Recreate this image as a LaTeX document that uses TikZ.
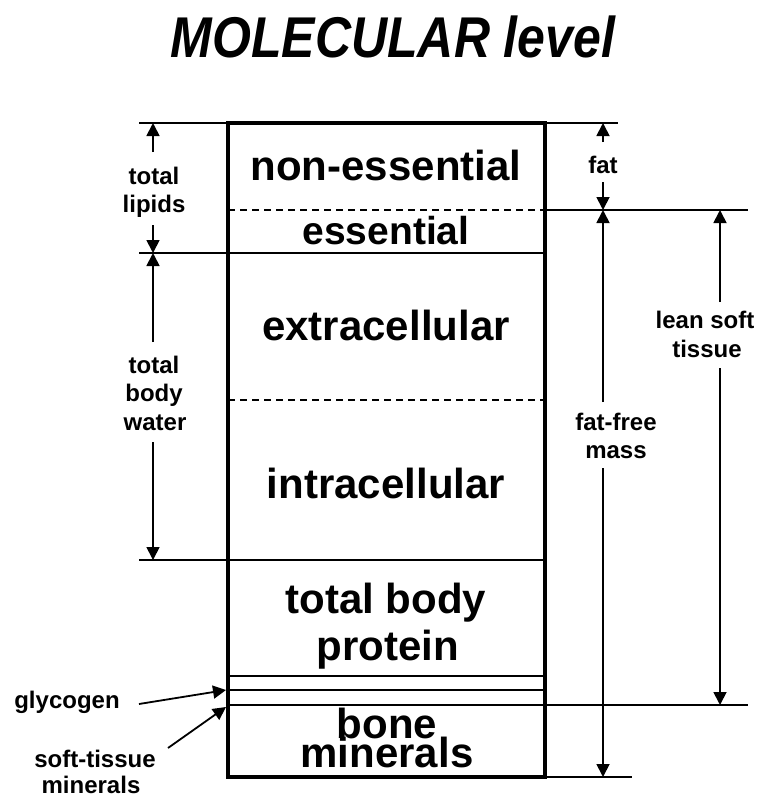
\documentclass[tikz,border=0pt]{standalone}
\usepackage{fontspec}
\setmainfont{Liberation Sans}
\usetikzlibrary{arrows.meta}
\begin{document}
\begin{tikzpicture}[x=1pt,y=-1pt,
  boxline/.style={line width=4.5pt},
  sep/.style={line width=2.8pt},
  thinsep/.style={line width=2.4pt},
  dsep/.style={line width=2pt, dash pattern=on 7pt off 5pt},
  arr/.style={line width=1.8pt,-{Triangle[length=13pt,width=13pt]}},
  big/.style={font=\fontsize{42}{34}\selectfont\bfseries, inner sep=0pt, anchor=base},
  side/.style={font=\fontsize{24}{28}\selectfont\bfseries, inner sep=0pt, anchor=base}]
\useasboundingbox (0,0) rectangle (764,796);

% title
\node[inner sep=0pt, anchor=base, font=\fontsize{50}{50}\selectfont\bfseries\itshape] (title) at (393,57) {\scalebox{1}[1.15]{MOLECULAR level}};

% coordinates
\coordinate (bx1) at (228,123);
\coordinate (bx2) at (545,777);

% horizontal lines
\draw[sep] (139,123) coordinate (t0) -- (618,123) coordinate (t1);
\draw[dsep] (228,210) -- (545,210);
\draw[sep] (545,210) coordinate (f0) -- (748,210) coordinate (f1);
\draw[sep] (139,253) coordinate (w0) -- (545,253);
\draw[dsep] (228,400) -- (545,400);
\draw[sep] (139,560) coordinate (p0) -- (545,560);
\draw[thinsep] (228,676) -- (545,676);
\draw[thinsep] (228,690) -- (545,690);
\draw[sep] (228,705) -- (748,705) coordinate (b1);
\draw[sep] (228,777) -- (632,777) coordinate (e1);

% box
\draw[boxline] (bx1) rectangle (bx2);

% box labels
\node[big] (ne) at (386,180) {non-essential};
\node[big, font=\fontsize{39}{34}\selectfont\bfseries] (es) at (386,244) {essential};
\node[big] (ex) at (386,340) {extracellular};
\node[big] (in) at (386,498) {intracellular};
\node[big] (tb) at (386,613) {total body};
\node[big] (pr) at (388,660) {protein};
\node[big] (bo) at (387,738) {bone};
\node[big] (mi) at (387,767) {minerals};

% side labels
\node[side] (lip1) at (154,184) {total};
\node[side] (lip2) at (154,212) {lipids};
\node[side] (wat1) at (154,373) {total};
\node[side] (wat2) at (154,401) {body};
\node[side] (wat3) at (155,430) {water};
\node[side] (fat) at (603,173) {fat};
\node[side] (ff1) at (616,430) {fat-free};
\node[side] (ff2) at (616,458) {mass};
\node[side] (ls1) at (705,328) {lean soft};
\node[side] (ls2) at (707,357) {tissue};
\node[side] (gly) at (67,708) {glycogen};
\node[side] (st1) at (95,767) {soft-tissue};
\node[side] (st2) at (91,793) {minerals};

% dimension arrows
\coordinate (a1) at (153,152); \coordinate (a1t) at (153,123);
\coordinate (a2) at (153,225); \coordinate (a2t) at (153,253);
\draw[arr] (a1) -- (a1t);
\draw[arr] (a2) -- (a2t);
\coordinate (a3) at (153,342); \coordinate (a3t) at (153,253);
\coordinate (a4) at (153,442); \coordinate (a4t) at (153,560);
\draw[arr] (a3) -- (a3t);
\draw[arr] (a4) -- (a4t);
\coordinate (a5) at (603,142); \coordinate (a5t) at (603,123);
\coordinate (a6) at (603,182); \coordinate (a6t) at (603,210);
\draw[arr] (a5) -- (a5t);
\draw[arr] (a6) -- (a6t);
\coordinate (a7) at (603,402); \coordinate (a7t) at (603,210);
\coordinate (a8) at (603,468); \coordinate (a8t) at (603,777);
\draw[arr] (a7) -- (a7t);
\draw[arr] (a8) -- (a8t);
\coordinate (a9) at (720,302); \coordinate (a9t) at (720,210);
\coordinate (a10) at (720,368); \coordinate (a10t) at (720,705);
\draw[arr] (a9) -- (a9t);
\draw[arr] (a10) -- (a10t);

% pointer arrows
\coordinate (g0) at (139,704); \coordinate (g1) at (226,690);
\coordinate (s0) at (168,748); \coordinate (s1) at (226,707);
\draw[arr] (g0) -- (g1);
\draw[arr] (s0) -- (s1);
\end{tikzpicture}
\end{document}
